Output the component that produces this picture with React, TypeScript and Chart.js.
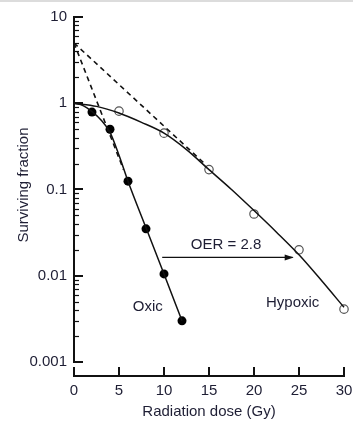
import React, { useEffect, useRef } from "react";
import { Chart, registerables } from "chart.js";

Chart.register(...registerables);

// Measured cell survival (points)
const oxicDose = [2, 4, 6, 8, 10, 12];
const oxicSurvival = [0.79, 0.5, 0.125, 0.035, 0.0105, 0.003];
const hypoxicDose = [5, 10, 15, 20, 25, 30];
const hypoxicSurvival = [0.81, 0.45, 0.17, 0.052, 0.02, 0.0041];

// Fitted survival curves
const oxicFitDose = [0, 1, 2, 3, 4, 5, 6, 8, 10, 12];
const oxicFitSurvival = [1, 0.94, 0.8, 0.64, 0.46, 0.25, 0.125, 0.036, 0.0105, 0.003];
const hypoxicFitDose = [0, 2.5, 5, 7.5, 10, 12.5, 15, 17.5, 20, 22.5, 25, 27.5, 30];
const hypoxicFitSurvival = [1, 0.92, 0.77, 0.6, 0.45, 0.29, 0.17, 0.1, 0.057, 0.032, 0.0175, 0.0088, 0.0043];

// Extrapolation (dashed) lines
const oxicExtrapDose = [0, 5.5];
const oxicExtrapSurvival = [5, 0.17];
const hypoxicExtrapDose = [0, 14.5];
const hypoxicExtrapSurvival = [5, 0.2];

// OER arrow
const oerArrowDose = [9.8, 24.3];
const oerArrowSurvival = [0.0163, 0.0163];

// Axes
const xTicks = [0, 5, 10, 15, 20, 25, 30];
const yTicks = [0.001, 0.01, 0.1, 1, 10];
const yTickLabels = ["0.001", "0.01", "0.1", "1", "10"];
const xTitle = "Radiation dose (Gy)";
const yTitle = "Surviving fraction";

// Text annotations
const annotationTexts = ["OER = 2.8", "Oxic", "Hypoxic"];
const annotationDose = [16.9, 8.2, 24.3];
const annotationSurvival = [0.023, 0.0044, 0.0049];

const TEXT = "#1e1e34";
const FONT = "15px 'Liberation Sans', Arial, sans-serif";

const zip = (xs: number[], ys: number[]) => xs.map((x, i) => ({ x, y: ys[i] }));

const axesPlugin = {
  id: "customAxes",
  beforeDatasetsDraw(chart: any) {
    const { ctx, scales } = chart;
    const x = scales.x;
    const y = scales.y;
    ctx.save();
    ctx.fillStyle = "#dcdcdc";
    ctx.fillRect(0, 0, chart.width, 2);

    const x0 = Math.round(x.getPixelForValue(0));
    const yTop = y.getPixelForValue(yTicks[yTicks.length - 1]);
    const yBot = y.getPixelForValue(yTicks[0]);
    ctx.strokeStyle = "#111";
    ctx.lineCap = "butt";
    ctx.lineWidth = 2;
    ctx.beginPath();
    ctx.moveTo(x0, yTop - 1);
    ctx.lineTo(x0, yBot + 1);
    ctx.stroke();
    // y major ticks
    yTicks.forEach((v) => {
      const py = Math.round(y.getPixelForValue(v));
      ctx.lineWidth = 2;
      ctx.beginPath();
      ctx.moveTo(x0, py);
      ctx.lineTo(x0 + 9, py);
      ctx.stroke();
    });
    // y minor ticks
    ctx.lineWidth = 1.2;
    for (let d = 0; d < yTicks.length - 1; d++) {
      for (let m = 2; m <= 9; m++) {
        const py = Math.round(y.getPixelForValue(yTicks[d] * m)) + 0.5;
        ctx.beginPath();
        ctx.moveTo(x0, py);
        ctx.lineTo(x0 + 5, py);
        ctx.stroke();
      }
    }
    // x axis
    const xAxisY = Math.round(chart.chartArea.bottom);
    ctx.lineWidth = 2;
    ctx.beginPath();
    ctx.moveTo(x.getPixelForValue(xTicks[0]) - 1, xAxisY);
    ctx.lineTo(x.getPixelForValue(xTicks[xTicks.length - 1]) + 1, xAxisY);
    ctx.stroke();
    xTicks.forEach((v) => {
      const px = Math.round(x.getPixelForValue(v));
      ctx.beginPath();
      ctx.moveTo(px, xAxisY);
      ctx.lineTo(px, xAxisY - 9);
      ctx.stroke();
    });

    // labels
    ctx.fillStyle = TEXT;
    ctx.font = FONT;
    ctx.textAlign = "right";
    ctx.textBaseline = "middle";
    yTicks.forEach((v, i) => {
      ctx.fillText(yTickLabels[i], x0 - 7, y.getPixelForValue(v));
    });
    ctx.textAlign = "center";
    xTicks.forEach((v) => {
      ctx.fillText(String(v), x.getPixelForValue(v), xAxisY + 15);
    });
    ctx.fillText(xTitle, (x.left + x.right) / 2, xAxisY + 36);
    ctx.save();
    ctx.translate(24, 185);
    ctx.rotate(-Math.PI / 2);
    ctx.fillText(yTitle, 0, 0);
    ctx.restore();

    // annotations
    annotationTexts.forEach((t, i) => {
      ctx.fillText(t, x.getPixelForValue(annotationDose[i]), y.getPixelForValue(annotationSurvival[i]));
    });
    ctx.restore();
  },
  afterDatasetsDraw(chart: any) {
    const { ctx, scales } = chart;
    const px = scales.x.getPixelForValue(oerArrowDose[1]);
    const py = scales.y.getPixelForValue(oerArrowSurvival[1]);
    ctx.save();
    ctx.fillStyle = "#111";
    ctx.beginPath();
    ctx.moveTo(px + 1, py);
    ctx.lineTo(px - 8, py - 3);
    ctx.lineTo(px - 8, py + 3);
    ctx.closePath();
    ctx.fill();
    ctx.restore();
  },
};

export default function App() {
  const ref = useRef<HTMLCanvasElement | null>(null);
  useEffect(() => {
    if (!ref.current) return;
    const lineBase = {
      type: "line" as const,
      pointRadius: 0,
      borderColor: "#111",
      borderWidth: 1.5,
      fill: false,
      clip: false as any,
    };
    const chart = new Chart(ref.current, {
      type: "line",
      data: {
        datasets: [
          { ...lineBase, data: zip(oxicExtrapDose, oxicExtrapSurvival), borderDash: [5, 4], borderWidth: 1.6 },
          { ...lineBase, data: zip(hypoxicExtrapDose, hypoxicExtrapSurvival), borderDash: [5, 4], borderWidth: 1.6 },
          { ...lineBase, data: zip(oxicFitDose, oxicFitSurvival), cubicInterpolationMode: "monotone" },
          { ...lineBase, data: zip(hypoxicFitDose, hypoxicFitSurvival), cubicInterpolationMode: "monotone" },
          { ...lineBase, data: zip(oerArrowDose, oerArrowSurvival), borderWidth: 1.2 },
          {
            type: "scatter",
            data: zip(oxicDose, oxicSurvival),
            pointRadius: 4.5,
            backgroundColor: "#000",
            borderColor: "#000",
            borderWidth: 0,
            clip: false as any,
          },
          {
            type: "scatter",
            data: zip(hypoxicDose, hypoxicSurvival),
            pointRadius: 4.2,
            backgroundColor: "#fff",
            borderColor: "#555",
            borderWidth: 1.2,
            clip: false as any,
          },
        ] as any,
      },
      options: {
        responsive: false,
        animation: false,
        events: [],
        layout: { padding: { left: 74, right: 9, top: 17, bottom: 52 } },
        plugins: { legend: { display: false }, tooltip: { enabled: false } },
        scales: {
          x: { type: "linear", min: 0, max: 30, display: false },
          y: { type: "logarithmic", min: 0.000688, max: 10, display: false },
        },
      },
      plugins: [axesPlugin],
    });
    return () => chart.destroy();
  }, []);
  return (
    <div style={{ position: "fixed", left: 0, top: 0, width: 353, height: 428, background: "#fff" }}>
      <canvas ref={ref} width={353} height={428} style={{ width: 353, height: 428, display: "block" }} />
    </div>
  );
}
